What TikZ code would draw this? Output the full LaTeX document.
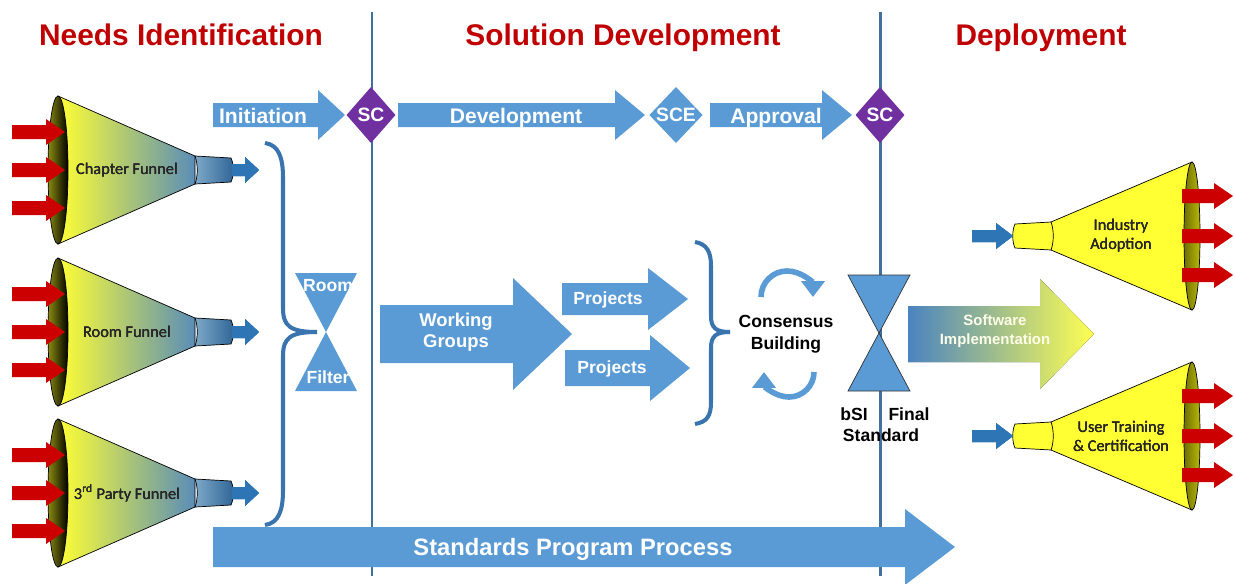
\documentclass[tikz,border=0pt]{standalone}
\usepackage{fontspec}
\setmainfont{Liberation Sans}
\newfontfamily\funnelfont{Carlito}
\usetikzlibrary{arrows.meta,shapes.geometric}

\definecolor{titlered}{HTML}{C00000}
\definecolor{boxblue}{HTML}{5B9BD5}
\definecolor{lineblue}{HTML}{41719C}
\definecolor{braceblue}{HTML}{3A74AE}
\definecolor{darkblue}{HTML}{2E75B6}
\definecolor{scpurple}{HTML}{7030A0}
\definecolor{inred}{HTML}{CC0000}
\definecolor{funnelyellow}{HTML}{FFFF33}
\definecolor{funnelblue}{HTML}{5A8DB8}
\definecolor{spoutlight}{HTML}{7EA8C8}
\definecolor{spoutdark}{HTML}{2F6596}
\definecolor{rimolive}{HTML}{8A8A10}
\definecolor{rimdark}{HTML}{6E6E00}
\definecolor{softblue}{HTML}{4A83C0}

\tikzset{
  divider/.style={draw=lineblue, line width=1.7pt},
  curlybrace/.style={draw=braceblue, line width=2.3pt},
  headtitle/.style={text=titlered, anchor=base, font=\bfseries\fontsize{17}{20}\selectfont},
  arrowtext/.style={text=white, anchor=base, font=\bfseries\fontsize{12}{14}\selectfont},
  labeltext/.style={text=white, font=\bfseries\fontsize{10}{12}\selectfont, align=center},
  blacktext/.style={text=black, font=\bfseries\fontsize{10}{12.5}\selectfont, align=center},
  funneltext/.style={text=black!85, font=\funnelfont\fontsize{9.3}{10.8}\selectfont, align=center},
  gate/.style={diamond, minimum width=28pt, minimum height=32pt, inner sep=0pt, text=white, font=\bfseries\fontsize{11}{13}\selectfont},
  cyclearrow/.style={draw=boxblue, line width=3.2pt, -{Triangle[width=13pt,length=9pt]}}
}

\newcommand\blockarrow[7]{\fill[#1] (#2,{#5-#6}) -- (#3,{#5-#6}) -- (#3,{#5-#7}) -- (#4,#5) -- (#3,{#5+#7}) -- (#3,{#5+#6}) -- (#2,{#5+#6}) -- cycle;}

\newcommand\leftfunnel[3]{%
  \begin{scope}[shift={(0,#2)}]
    \shadedraw[left color=funnelyellow, middle color=funnelyellow!72!funnelblue, right color=funnelblue, draw=black, thin] (58,-74) -- (195,-14) -- (195,14) -- (58,74) -- cycle;
    \shadedraw[left color=spoutlight, right color=spoutdark, draw=black, thin] (195,-14) -- (231,-12) .. controls (234,-6) and (234,6) .. (231,12) -- (195,14) .. controls (198,6) and (198,-6) .. (195,-14) -- cycle;
    \shadedraw[left color=rimolive, right color=black, draw=black, thin] (58,0) ellipse [x radius=10, y radius=74];
    \foreach \dy in {-38,0,38} \blockarrow{inred}{12}{46}{65}{\dy}{7}{13}
    \blockarrow{darkblue}{232}{245}{259}{0}{6}{13}
    \node[funneltext] (#1) at (127,0) {#3};
  \end{scope}}

\newcommand\rightfunnel[3]{%
  \begin{scope}[shift={(0,#2)}]
    \filldraw[fill=funnelyellow, draw=black, thin] (1192,-74) -- (1051,-14) -- (1051,14) -- (1192,74) -- cycle;
    \filldraw[fill=funnelyellow, draw=black, thin] (1051,-14) -- (1015,-12) .. controls (1012,-6) and (1012,6) .. (1015,12) -- (1051,14) .. controls (1054,6) and (1054,-6) .. (1051,-14) -- cycle;
    \shadedraw[left color=rimdark, right color=rimolive!60!yellow, draw=black, thin] (1192,0) ellipse [x radius=8, y radius=74];
    \foreach \dy in {-40,0,39} \blockarrow{inred}{1182}{1214}{1233}{\dy}{7}{13}
    \blockarrow{darkblue}{972}{996}{1013}{0}{6}{13}
    \node[funneltext] (#1) at (1121,0) {#3};
  \end{scope}}

\begin{document}
\begin{tikzpicture}[x=0.02cm, y=-0.02cm]
\useasboundingbox (0,0) rectangle (1235,583);

\draw[divider] (372,12) -- (372,576);
\draw[divider] (880,12) -- (880,576);

\node[headtitle] (needs) at (181,45) {Needs Identification};
\node[headtitle] (solution) at (623,45) {Solution Development};
\node[headtitle] (deploy) at (1041,45) {Deployment};

\blockarrow{boxblue}{213}{318}{345}{115}{12}{25}
\node[arrowtext] (init) at (263,123) {Initiation};
\node[gate, fill=scpurple] (scstart) at (371,115) {SC};
\blockarrow{boxblue}{398}{615}{645}{115}{12}{25}
\node[arrowtext] (dev) at (516,123) {Development};
\node[gate, fill=boxblue] (sce) at (676,115) {SCE};
\blockarrow{boxblue}{710}{822}{852}{115}{12}{25}
\node[arrowtext] (appr) at (776,123) {Approval};
\node[gate, fill=scpurple] (scend) at (880,115) {SC};

\leftfunnel{chapter}{170}{Chapter Funnel}
\leftfunnel{room}{332}{Room Funnel}
\leftfunnel{party}{493}{3\textsuperscript{rd} Party Funnel}

\draw[curlybrace] (265,143) .. controls (279,145) and (283,158) .. (283,178) -- (283,308) .. controls (283,326) and (290,332) .. (317,332);
\draw[curlybrace] (317,332) .. controls (290,332) and (283,338) .. (283,356) -- (283,490) .. controls (283,510) and (279,523) .. (265,525);

\fill[boxblue] (295,273) -- (357,273) -- (326,332) -- cycle;
\fill[boxblue] (326,332) -- (357,391) -- (295,391) -- cycle;
\node[labeltext] (roomgate) at (328,286) {Room};
\node[labeltext] (filter) at (328,377) {Filter};

\blockarrow{boxblue}{380}{513}{572}{334}{29}{56}
\node[labeltext, font=\bfseries\fontsize{10.5}{12}\selectfont] (wg) at (456,332) {Working\\Groups};
\blockarrow{boxblue}{562}{648}{688}{299}{16}{31}
\node[labeltext, anchor=base] (projup) at (608,304) {Projects};
\blockarrow{boxblue}{565}{650}{690}{368}{18}{33}
\node[labeltext, anchor=base] (projdown) at (612,373) {Projects};

\draw[curlybrace] (695,242) .. controls (707,244) and (711,252) .. (711,266) -- (711,316) .. controls (711,328) and (716,332) .. (730,332);
\draw[curlybrace] (730,332) .. controls (716,332) and (711,336) .. (711,348) -- (711,402) .. controls (711,416) and (707,422) .. (695,424);

\node[blacktext] (cons) at (786,334) {Consensus\\Building};
\draw[cyclearrow] (761,297) arc (180:360:26);
\draw[cyclearrow] (814,372) arc (0:180:25);

\filldraw[fill=boxblue, draw=black!80, thin] (848,275) -- (910,275) -- (879,333) -- cycle;
\filldraw[fill=boxblue, draw=black!80, thin] (879,333) -- (910,391) -- (848,391) -- cycle;
\node[blacktext] (bsi) at (854,414) {bSI};
\node[blacktext] (final) at (909,414) {Final};
\node[blacktext] (std) at (881,435) {Standard};

\blockarrow{left color=softblue, middle color=yellow!75!green!60!white, right color=funnelyellow!85!white}{908}{1040}{1094}{334}{28}{55}
\node[labeltext, text=white!92!yellow, font=\bfseries\fontsize{8.5}{10.8}\selectfont] (soft) at (995,331) {Software\\Implementation};

\rightfunnel{industry}{236}{Industry\\Adoption}
\rightfunnel{training}{436}{User Training\\\& Certification}

\blockarrow{boxblue}{213}{905}{955}{547}{20}{38}
\node[arrowtext, font=\bfseries\fontsize{13.5}{16}\selectfont] (spp) at (573,555) {Standards Program Process};
\end{tikzpicture}
\end{document}
